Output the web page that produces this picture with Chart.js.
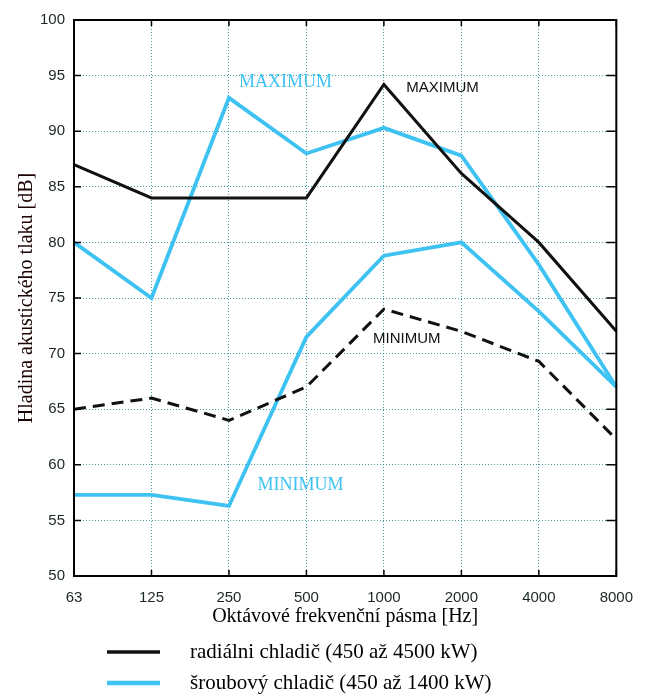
<!DOCTYPE html>
<html>
<head>
<meta charset="utf-8">
<script src="https://cdn.jsdelivr.net/npm/chart.js@4.4.1/dist/chart.umd.min.js"></script>
<style>
  html, body { margin: 0; padding: 0; background: #fff; }
</style>
</head>
<body>
<canvas id="chart" width="646" height="695"></canvas>
<script>
// Octave bands and levels
const bands = ['63', '125', '250', '500', '1000', '2000', '4000', '8000'];
const radialMax = [87, 84, 84, 84, 94.2, 86.2, 80, 72];
const radialMin = [65, 66, 64, 67, 74, 72, 69.3, 62.3];
const screwMax = [80, 75, 93, 88, 90.3, 87.8, 78, 67];
const screwMin = [57.3, 57.3, 56.3, 71.5, 78.8, 80, 73.8, 67];
const yTicks = [50, 55, 60, 65, 70, 75, 80, 85, 90, 95, 100];

const BLACK = '#111111';
const BLUE = '#3ec2f2';
const SERIF = '"Liberation Serif", "DejaVu Serif", serif';
const SANS = '"Liberation Sans", Arial, sans-serif';

// text notes, placed in data units (band index, dB)
const notes = [
  { text: 'MAXIMUM', x: 2.13, y: 94.4, color: BLUE, font: '18px ' + SERIF },
  { text: 'MAXIMUM', x: 4.29, y: 93.9, color: BLACK, font: '15px ' + SANS },
  { text: 'MINIMUM', x: 3.86, y: 71.3, color: BLACK, font: '15px ' + SANS },
  { text: 'MINIMUM', x: 2.37, y: 58.2, color: BLUE, font: '18px ' + SERIF }
];

const legendItems = [
  { text: 'radiálni chladič (450 až 4500 kW)', color: BLACK, width: 3.5 },
  { text: 'šroubový chladič (450 až 1400 kW)', color: BLUE, width: 4.5 }
];

const framePlugin = {
  id: 'frame',
  afterDatasetsDraw(chart) {
    const { ctx, chartArea: a, scales: { x, y } } = chart;
    ctx.save();
    ctx.strokeStyle = '#000';
    ctx.lineWidth = 2;
    ctx.strokeRect(a.left, a.top, a.right - a.left, a.bottom - a.top);
    // inward tick marks
    ctx.lineWidth = 1.5;
    ctx.beginPath();
    y.ticks.forEach(t => {
      const py = y.getPixelForValue(t.value);
      ctx.moveTo(a.left, py); ctx.lineTo(a.left + 7, py);
      ctx.moveTo(a.right, py); ctx.lineTo(a.right - 10, py);
    });
    bands.forEach((b, i) => {
      const px = x.getPixelForValue(i);
      ctx.moveTo(px, a.top); ctx.lineTo(px, a.top + 6);
      ctx.moveTo(px, a.bottom); ctx.lineTo(px, a.bottom - 6);
    });
    ctx.stroke();

    ctx.textBaseline = 'middle';
    ctx.textAlign = 'left';
    notes.forEach(n => {
      ctx.font = n.font;
      ctx.fillStyle = n.color;
      ctx.fillText(n.text, x.getPixelForValue(n.x), y.getPixelForValue(n.y));
    });
    ctx.restore();
  },
  afterDraw(chart) {
    const { ctx } = chart;
    ctx.save();
    ctx.font = '21px ' + SERIF;
    ctx.textBaseline = 'middle';
    ctx.fillStyle = '#000';
    legendItems.forEach((item, i) => {
      const rowY = 652 + i * 31;
      ctx.strokeStyle = item.color;
      ctx.lineWidth = item.width;
      ctx.beginPath();
      ctx.moveTo(107, rowY);
      ctx.lineTo(160, rowY);
      ctx.stroke();
      ctx.fillText(item.text, 190, rowY);
    });
    ctx.restore();
  }
};

function line(data, color, width, dash) {
  return {
    data: data,
    borderColor: color,
    borderWidth: width,
    borderDash: dash || [],
    pointRadius: 0,
    fill: false,
    tension: 0
  };
}

new Chart(document.getElementById('chart'), {
  type: 'line',
  data: {
    labels: bands,
    datasets: [
      line(radialMax, BLACK, 3),
      line(radialMin, BLACK, 3, [12, 7]),
      line(screwMax, BLUE, 3.8),
      line(screwMin, BLUE, 3.8)
    ]
  },
  options: {
    responsive: false,
    animation: false,
    layout: { padding: { top: 20, right: 28, bottom: 62, left: 0 } },
    plugins: {
      legend: { display: false },
      tooltip: { enabled: false }
    },
    scales: {
      x: {
        offset: false,
        grid: { offset: false, color: 'rgba(30,130,140,0.8)', lineWidth: 1, drawTicks: false },
        border: { display: false, dash: [1, 2] },
        ticks: { color: '#1b2626', font: { family: SANS, size: 15 }, padding: 13, maxRotation: 0 },
        title: { display: true, text: 'Oktávové frekvenční pásma [Hz]', color: '#000',
                 font: { family: SERIF, size: 20 }, padding: { top: 4, bottom: 4 } },
        afterFit(scale) { scale.height = 57; }
      },
      y: {
        min: 50,
        max: 100,
        afterBuildTicks(scale) { scale.ticks = yTicks.map(v => ({ value: v })); },
        grid: { color: 'rgba(30,130,140,0.8)', lineWidth: 1, drawTicks: false },
        border: { display: false, dash: [1, 2] },
        ticks: { color: '#1b2626', font: { family: SANS, size: 15 }, padding: 9 },
        title: { display: true, text: 'Hladina akustického tlaku [dB]', color: '#1a0000',
                 font: { family: SERIF, size: 20 }, padding: { top: 15, bottom: 0 } },
        afterFit(scale) { scale.width = 74; }
      }
    }
  },
  plugins: [framePlugin]
});
</script>
</body>
</html>
